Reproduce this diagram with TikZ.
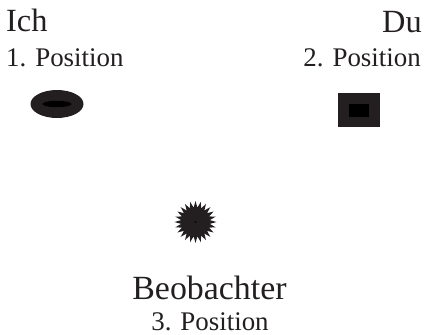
\documentclass[tikz,border=0pt]{standalone}
\usepackage{fontspec}
\setmainfont{Liberation Serif}
\usetikzlibrary{shapes.geometric}
\definecolor{ink}{HTML}{231F20}
\begin{document}
\begin{tikzpicture}[x=1bp,y=-1bp,
  txtbox/.style={inner sep=0pt,text=ink},
  whobox/.style={txtbox,font=\fontsize{32.5}{32.5}\selectfont},
  posbox/.style={txtbox,font=\fontsize{27}{27}\selectfont}]
\useasboundingbox (0,0) rectangle (424,335);
% Ich
\node[whobox,anchor=base west] (ich) at (6,31.5) {Ich};
\node[posbox,anchor=base west] (ichpos) at (6,66) {1. Position};
\fill[ink] (57,104) ellipse [x radius=26.5,y radius=14];
\fill[black] (57,104) ellipse [x radius=14.5,y radius=3.2];
% Du
\node[whobox,anchor=base east] (du) at (422,32) {Du};
\node[posbox,anchor=base east] (dupos) at (421,66) {2. Position};
\fill[ink] (338,93) rectangle (380,127);
\fill[black] (349,104) rectangle (369,117);
% Beobachter
\node[star,star points=24,star point ratio=1.45,fill=ink,draw=none,
  minimum size=42bp,inner sep=0pt] (obs) at (195.5,222) {};
\fill[black] (obs.center) ellipse [x radius=1.2,y radius=0.8];
\node[txtbox,font=\fontsize{34}{34}\selectfont,anchor=base] (beo) at (209.5,299) {Beobachter};
\node[posbox,anchor=base] (beopos) at (210,330) {3. Position};
\end{tikzpicture}
\end{document}
